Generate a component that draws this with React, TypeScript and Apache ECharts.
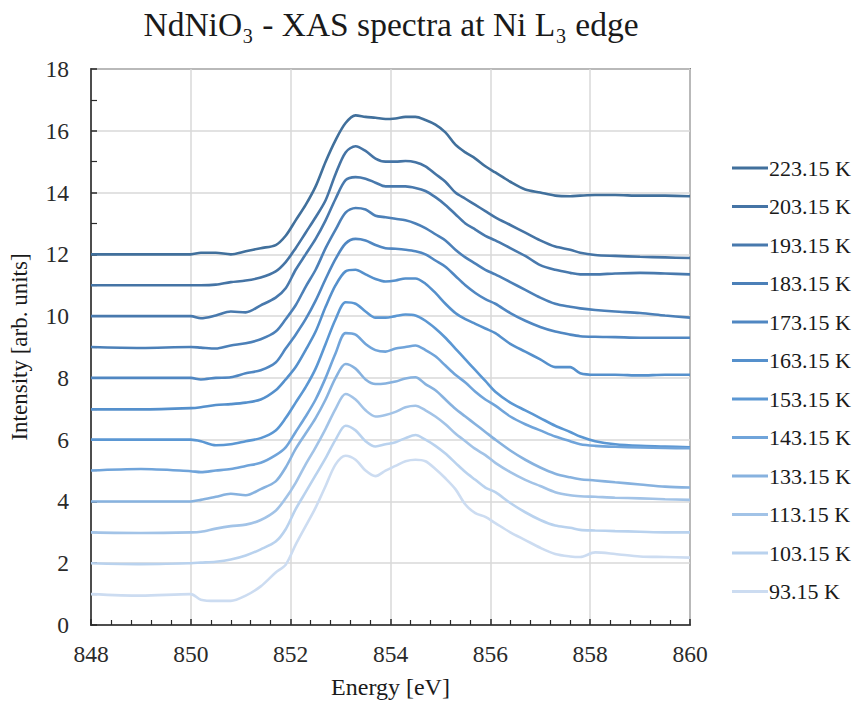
import React, { useEffect, useRef } from "react";
import * as echarts from "echarts";

const energy = [848, 849, 850, 850.2, 850.5, 850.8, 851.1, 851.4, 851.7, 851.9, 852.1, 852.3, 852.5, 852.7, 852.9, 853.1, 853.3, 853.5, 853.7, 853.9, 854.1, 854.3, 854.5, 854.7, 854.9, 855.1, 855.3, 855.5, 855.7, 855.9, 856.1, 856.4, 856.7, 857.0, 857.3, 857.6, 857.8, 858.1, 858.5, 859, 859.5, 860];

const t223 = [12.0, 12.0, 12.0, 12.05, 12.05, 12.0, 12.1, 12.2, 12.3, 12.6, 13.1, 13.6, 14.2, 15.0, 15.7, 16.25, 16.5, 16.45, 16.42, 16.38, 16.4, 16.45, 16.45, 16.35, 16.2, 15.95, 15.55, 15.3, 15.1, 14.85, 14.65, 14.35, 14.1, 14.0, 13.9, 13.88, 13.9, 13.92, 13.92, 13.9, 13.9, 13.88];
const t203 = [11, 11, 11, 11, 11.02, 11.1, 11.15, 11.25, 11.45, 11.75, 12.2, 12.7, 13.2, 13.75, 14.6, 15.3, 15.5, 15.35, 15.1, 15.0, 15.0, 15.02, 14.98, 14.85, 14.6, 14.35, 14.0, 13.8, 13.6, 13.4, 13.2, 12.95, 12.7, 12.45, 12.25, 12.15, 12.05, 11.98, 11.95, 11.92, 11.9, 11.88];
const t193 = [10, 10, 10, 9.93, 10.02, 10.15, 10.12, 10.35, 10.6, 10.9, 11.5, 12.0, 12.5, 13.1, 13.8, 14.4, 14.5, 14.45, 14.32, 14.2, 14.2, 14.2, 14.15, 14.05, 13.85, 13.6, 13.3, 13.0, 12.8, 12.6, 12.45, 12.2, 11.95, 11.65, 11.5, 11.4, 11.35, 11.35, 11.38, 11.4, 11.38, 11.35];
const t183 = [9, 8.97, 9.0, 8.98, 8.95, 9.05, 9.12, 9.25, 9.5, 9.9, 10.35, 10.95, 11.5, 12.2, 12.8, 13.35, 13.5, 13.45, 13.25, 13.2, 13.15, 13.1, 13.0, 12.85, 12.65, 12.45, 12.15, 11.9, 11.7, 11.5, 11.35, 11.1, 10.85, 10.6, 10.4, 10.3, 10.25, 10.2, 10.15, 10.1, 10.02, 9.95];
const t173 = [8, 8, 8.0, 7.95, 8.0, 8.02, 8.15, 8.25, 8.5, 8.95, 9.4, 9.9, 10.5, 11.2, 11.85, 12.35, 12.5, 12.45, 12.3, 12.2, 12.18, 12.15, 12.1, 12.0, 11.8, 11.6, 11.3, 11.0, 10.75, 10.55, 10.4, 10.1, 9.85, 9.65, 9.5, 9.4, 9.35, 9.33, 9.32, 9.3, 9.3, 9.3];
const t163 = [6.98, 6.98, 7.02, 7.05, 7.12, 7.15, 7.2, 7.3, 7.6, 7.95, 8.35, 8.9, 9.5, 10.3, 11.0, 11.45, 11.5, 11.35, 11.2, 11.12, 11.15, 11.22, 11.22, 11.05, 10.75, 10.4, 10.1, 9.9, 9.75, 9.6, 9.45, 9.1, 8.85, 8.6, 8.35, 8.35, 8.15, 8.1, 8.1, 8.08, 8.1, 8.1];
const t153 = [6.0, 6.0, 6.0, 5.95, 5.82, 5.85, 5.95, 6.05, 6.3, 6.7, 7.2, 7.7, 8.3, 9.1, 9.9, 10.45, 10.4, 10.15, 9.95, 9.95, 10.0, 10.05, 10.02, 9.85, 9.6, 9.3, 8.95, 8.6, 8.25, 7.9, 7.55, 7.2, 6.95, 6.7, 6.45, 6.25, 6.1, 5.95, 5.85, 5.8, 5.78, 5.75];
const t143 = [5.0, 5.05, 4.98, 4.95, 5.0, 5.05, 5.15, 5.25, 5.5, 5.75, 6.25, 6.75, 7.3, 8.0, 8.8, 9.45, 9.4, 9.1, 8.9, 8.85, 8.95, 9.0, 9.05, 8.9, 8.7, 8.4, 8.1, 7.85, 7.55, 7.3, 7.1, 6.75, 6.5, 6.3, 6.1, 5.95, 5.85, 5.8, 5.77, 5.75, 5.73, 5.72];
const t133 = [4.0, 4.0, 4.0, 4.05, 4.15, 4.25, 4.2, 4.4, 4.65, 5.1, 5.7, 6.2, 6.7, 7.3, 8.0, 8.45, 8.3, 7.95, 7.8, 7.82, 7.88, 7.98, 8.02, 7.8, 7.6, 7.3, 7.0, 6.75, 6.5, 6.25, 6.0, 5.65, 5.35, 5.1, 4.9, 4.78, 4.72, 4.68, 4.62, 4.55, 4.48, 4.45];
const t113 = [3.0, 2.98, 3.0, 3.02, 3.12, 3.2, 3.25, 3.4, 3.7, 4.1, 4.6, 5.2, 5.75, 6.35, 7.0, 7.48, 7.3, 6.95, 6.75, 6.8, 6.9, 7.05, 7.1, 6.95, 6.75, 6.5, 6.2, 5.95, 5.7, 5.5, 5.25, 4.95, 4.7, 4.5, 4.3, 4.2, 4.17, 4.15, 4.12, 4.1, 4.07, 4.05];
const t103 = [2.0, 1.97, 2.0, 2.02, 2.05, 2.12, 2.25, 2.45, 2.7, 3.1, 3.75, 4.3, 4.85, 5.4, 6.0, 6.45, 6.3, 5.95, 5.78, 5.85, 5.92, 6.05, 6.15, 6.0, 5.8, 5.55, 5.25, 4.95, 4.7, 4.45, 4.3, 3.95, 3.65, 3.4, 3.22, 3.15, 3.08, 3.06, 3.04, 3.02, 3.0, 3.0];
const t93 = [1.0, 0.95, 1.0, 0.82, 0.78, 0.78, 0.95, 1.25, 1.7, 1.95, 2.6, 3.2, 3.8, 4.5, 5.2, 5.48, 5.35, 5.0, 4.82, 5.0, 5.15, 5.3, 5.35, 5.3, 5.05, 4.75, 4.4, 3.9, 3.62, 3.5, 3.3, 3.0, 2.75, 2.5, 2.3, 2.22, 2.2, 2.35, 2.3, 2.22, 2.2, 2.18];

const seriesNames = ["223.15 K", "203.15 K", "193.15 K", "183.15 K", "173.15 K", "163.15 K", "153.15 K", "143.15 K", "133.15 K", "113.15 K", "103.15 K", "93.15 K"];
const seriesValues = [t223, t203, t193, t183, t173, t163, t153, t143, t133, t113, t103, t93];
const seriesColors = ["#41709c", "#4574a5", "#4879ad", "#4c80b8", "#5087c2", "#5590cc", "#5b97d3", "#70a4da", "#87b2df", "#a2c3e7", "#b9d2ee", "#ccdcf1"];

const xTicks = { min: 848, max: 860, interval: 2 };
const yTicks = { min: 0, max: 18, interval: 2 };

const FONT = "'Liberation Serif', 'DejaVu Serif', serif";

export default function App() {
  const ref = useRef<HTMLDivElement>(null);
  useEffect(() => {
    if (!ref.current) return;
    const chart = echarts.init(ref.current, undefined, { renderer: "svg" });
    chart.setOption({
      animation: false,
      backgroundColor: "#ffffff",
      title: {
        text: "NdNiO₃ - XAS spectra at Ni L₃ edge",
        left: 386,
        top: 2,
        textAlign: "center",
        textStyle: { fontFamily: FONT, fontSize: 33.5, fontWeight: "normal", color: "#1a1a1a" },
      },
      legend: {
        orient: "vertical",
        left: 727,
        top: 152,
        itemWidth: 36,
        itemHeight: 22,
        itemGap: 16.5,
        icon: "path://M0,9 L36,9 L36,12 L0,12 Z",
        textStyle: { fontFamily: FONT, fontSize: 22, color: "#1a1a1a", lineHeight: 22, padding: [0, 0, 0, -4] },
        data: seriesNames,
      },
      grid: {
        left: 89,
        right: 171,
        top: 69,
        bottom: 80,
        show: true,
        borderColor: "#2a2a2a",
        borderWidth: 1.5,
      },
      xAxis: {
        type: "value",
        min: xTicks.min,
        max: xTicks.max,
        interval: xTicks.interval,
        name: "Energy [eV]",
        nameLocation: "middle",
        nameGap: 50,
        nameTextStyle: { fontFamily: FONT, fontSize: 24, color: "#1a1a1a" },
        axisLine: { show: true, lineStyle: { color: "#2a2a2a", width: 1.5 } },
        axisTick: { show: true, inside: true, length: 6, lineStyle: { color: "#2a2a2a", width: 1.5 } },
        minorTick: { show: true, splitNumber: 5, length: 5, lineStyle: { color: "#2a2a2a", width: 1.2 } },
        axisLabel: { fontFamily: FONT, fontSize: 23.5, color: "#2a2a2a", margin: 17 },
        splitLine: { show: true, lineStyle: { color: "#d9d9d9", width: 1.5 } },
      },
      yAxis: {
        type: "value",
        min: yTicks.min,
        max: yTicks.max,
        interval: yTicks.interval,
        name: "Intensity [arb. units]",
        nameLocation: "middle",
        nameGap: 60,
        nameTextStyle: { fontFamily: FONT, fontSize: 23, color: "#1a1a1a" },
        axisLine: { show: true, lineStyle: { color: "#2a2a2a", width: 1.5 } },
        axisTick: { show: true, inside: true, length: 6, lineStyle: { color: "#2a2a2a", width: 1.5 } },
        minorTick: { show: true, splitNumber: 2, length: 6, lineStyle: { color: "#2a2a2a", width: 1.2 } },
        axisLabel: { fontFamily: FONT, fontSize: 23.5, color: "#2a2a2a", margin: 22 },
        splitLine: { show: true, lineStyle: { color: "#d9d9d9", width: 1.5 } },
      },
      series: seriesNames.map((name, i) => ({
        name,
        type: "line",
        showSymbol: false,
        symbol: "none",
        smooth: 0.3,
        color: seriesColors[i],
        lineStyle: { color: seriesColors[i], width: 2.6 },
        data: energy.map((e, j) => [e, seriesValues[i][j]]),
      })),
    });
    return () => chart.dispose();
  }, []);
  return (
    <div
      ref={ref}
      style={{ position: "fixed", left: 0, top: 0, width: 861, height: 705 }}
    />
  );
}
